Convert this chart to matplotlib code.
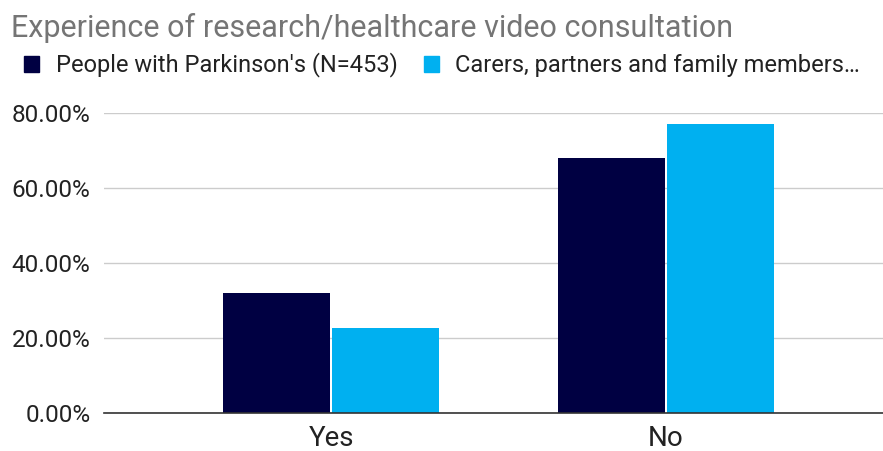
import matplotlib
matplotlib.use("Agg")
import matplotlib.pyplot as plt
from matplotlib.patches import Patch
from matplotlib.ticker import FuncFormatter
import numpy as np

plt.rcParams['font.family'] = ['Roboto', 'DejaVu Sans']

categories = ["Yes", "No"]
series_names = ["People with Parkinson's (N=453)", "Carers, partners and family members\u2026"]
pwp = [31.8, 67.8]
carers = [22.7, 76.9]
colors = ["#000042", "#00b0f0"]

fig = plt.figure(figsize=(8.83, 4.51), dpi=100)
ax = fig.add_axes([0.118, 0.085, 0.882, 0.665])

x = np.arange(len(categories))
w = 0.32
ax.bar(x - w / 2 - 0.003, pwp, w, color=colors[0], zorder=3)
ax.bar(x + w / 2 + 0.003, carers, w, color=colors[1], zorder=3)

ax.set_xlim(-0.678, 1.648)
ax.set_ylim(0, 80)
ax.set_yticks([0, 20, 40, 60, 80])
ax.yaxis.set_major_formatter(FuncFormatter(lambda v, p: f"{v:.2f}%"))
ax.set_xticks(x)
ax.set_xticklabels(categories)
ax.tick_params(axis='y', length=0, pad=10, labelsize=17.5, labelcolor='#222222')
ax.tick_params(axis='x', length=0, pad=9, labelsize=20, labelcolor='#222222')
ax.grid(axis='y', color='#cccccc', linewidth=1, zorder=0)
for s in ['top', 'right', 'left']:
    ax.spines[s].set_visible(False)
ax.spines['bottom'].set_color('#333333')
ax.spines['bottom'].set_linewidth(1.2)
ax.spines['bottom'].set_zorder(4)

fig.text(0.012, 1 - 37 / 451, "Experience of research/healthcare video consultation",
         fontsize=22, color='#757575', va='baseline', ha='left')

handles = [Patch(color=c) for c in colors]
fig.legend(handles, series_names, loc='center left', bbox_to_anchor=(0.003, 1 - 65 / 451),
           ncol=2, frameon=False, fontsize=17, handlelength=0.65, handleheight=0.65,
           handletextpad=0.7, columnspacing=1.1, labelcolor='#222222')

fig.savefig("out.png", dpi=100)
